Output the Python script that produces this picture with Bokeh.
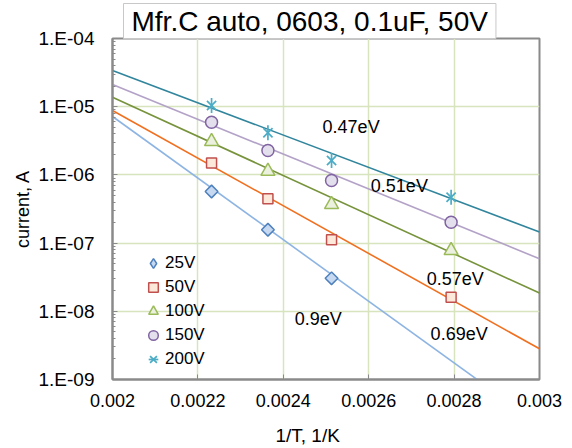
import numpy as np
from bokeh.plotting import figure
from bokeh.models import (Range1d, FixedTicker, Legend, LegendItem,
                          ColumnDataSource, LinearAxis, Title)
from bokeh.core.properties import value
from bokeh.embed import file_html
from bokeh.resources import INLINE

FONT = "Liberation Sans"

# ---- data ----
title_text = "Mfr.C auto, 0603, 0.1uF, 50V"
x_title = "1/T, 1/K"
y_title = "current, A"

inv_T = [0.002232, 0.002364, 0.002513, 0.002793]
inv_T_25V = [0.002232, 0.002364, 0.002513]
i_25V = [5.71e-7, 1.57e-7, 3.05e-8]
i_50V = [1.49e-6, 4.47e-7, 1.12e-7, 1.61e-8]
i_100V = [3.09e-6, 1.13e-6, 3.68e-7, 7.78e-8]
i_150V = [5.93e-6, 2.28e-6, 8.28e-7, 2.02e-7]
i_200V = [1.04e-5, 4.14e-6, 1.63e-6, 4.71e-7]

fit_x = [0.002, 0.003]
fit_25V = [7.18e-6, 2.19e-10]
fit_50V = [8.8e-6, 2.82e-9]
fit_100V = [1.38e-5, 1.85e-8]
fit_150V = [2.12e-5, 5.89e-8]
fit_200V = [3.40e-5, 1.45e-7]

ea_labels = ["0.47eV", "0.51eV", "0.57eV", "0.69eV", "0.9eV"]
ea_x = [0.002492, 0.002605, 0.002736, 0.002745, 0.002427]
ea_y = [4.96e-6, 6.76e-7, 2.99e-8, 4.68e-9, 7.59e-9]

x_ticks = [0.002, 0.0022, 0.0024, 0.0026, 0.0028, 0.003]
x_tick_labels = ["0.002", "0.0022", "0.0024", "0.0026", "0.0028", "0.003"]
y_ticks = [1e-9, 1e-8, 1e-7, 1e-6, 1e-5, 1e-4]
y_tick_labels = ["1.E-09", "1.E-08", "1.E-07", "1.E-06", "1.E-05", "1.E-04"]
y_minor = [k * 10.0 ** e for e in range(-9, -4) for k in range(2, 10)]
x_title_pos = 0.002457   # where the x-axis title is centred
legend_only_x = [0.0015]  # off-range point used only for the 25V legend glyph
legend_only_y = [1e-6]

# ---- figure ----
p = figure(width=572, height=448, title=None,
           x_range=Range1d(0.002, 0.003), y_range=Range1d(1e-9, 1e-4),
           y_axis_type="log", output_backend="svg", toolbar_location=None,
           min_border_left=112, min_border_right=33,
           min_border_top=38, min_border_bottom=69)
p.background_fill_color = "white"
p.border_fill_color = "white"
p.outline_line_color = "#8a8a8a"
p.outline_line_width = 2

grid_col = "#d7e4bd"
p.xgrid.grid_line_color = grid_col
p.ygrid.grid_line_color = grid_col
p.xgrid.grid_line_width = 1.5
p.ygrid.grid_line_width = 1.5

p.xaxis.ticker = FixedTicker(ticks=x_ticks)
p.xaxis.major_label_overrides = dict(zip(x_ticks, x_tick_labels))
p.yaxis.ticker = FixedTicker(ticks=y_ticks, minor_ticks=y_minor)
p.yaxis.major_label_overrides = dict(zip(y_ticks, y_tick_labels))
p.xgrid.ticker = FixedTicker(ticks=x_ticks)
p.ygrid.ticker = FixedTicker(ticks=y_ticks)

for ax in (p.xaxis, p.yaxis):
    ax.axis_line_color = "#8a8a8a"
    ax.axis_line_width = 2
    ax.major_tick_line_color = "#8a8a8a"
    ax.minor_tick_line_color = "#8a8a8a"
    ax.major_tick_in = 5
    ax.major_tick_out = 0
    ax.minor_tick_in = 3
    ax.minor_tick_out = 0
    ax.major_label_text_font = FONT
    ax.major_label_text_color = "black"

p.xaxis.major_label_text_font_size = "18px"
p.yaxis.major_label_text_font_size = "19px"
p.xaxis.major_label_standoff = 14
p.yaxis.major_label_standoff = 18
p.yaxis.axis_label = y_title
p.yaxis.axis_label_text_font = FONT
p.yaxis.axis_label_text_font_size = "18px"
p.yaxis.axis_label_text_font_style = "normal"
p.yaxis.axis_label_text_color = "black"
p.yaxis.axis_label_standoff = 3

# x-axis title, drawn as the single label of a second, bare axis
xt_axis = LinearAxis(ticker=FixedTicker(ticks=[x_title_pos]),
                     major_label_overrides={x_title_pos: x_title})
xt_axis.axis_line_color = None
xt_axis.major_tick_line_color = None
xt_axis.minor_tick_line_color = None
xt_axis.major_tick_in = 0
xt_axis.major_tick_out = 0
xt_axis.major_label_standoff = 15
xt_axis.major_label_text_font = FONT
xt_axis.major_label_text_font_size = "19px"
xt_axis.major_label_text_color = "black"
p.add_layout(xt_axis, "below")

# ---- chart title box ----
p.add_layout(Title(text=title_text, align="left", offset=11,
                   text_font=FONT, text_font_size="28px",
                   text_font_style="normal", text_color="black",
                   background_fill_color="white",
                   border_line_color="#c8c8c8", border_line_width=1,
                   padding=(8, 2), standoff=0), "above")

# ---- fit lines ----
p.line(fit_x, fit_25V, line_color="#8db4e2", line_width=1.6)
p.line(fit_x, fit_50V, line_color="#f07020", line_width=1.6)
p.line(fit_x, fit_100V, line_color="#77933c", line_width=1.6)
p.line(fit_x, fit_150V, line_color="#b3a2c7", line_width=1.6)
p.line(fit_x, fit_200V, line_color="#31859c", line_width=1.6)

# ---- markers ----
p.scatter(inv_T_25V, i_25V, marker="square", angle=np.pi / 4, size=9,
          fill_color="#c6d9f1", line_color="#4f81bd", line_width=1.5)
r25 = p.scatter(legend_only_x, legend_only_y, marker="diamond", size=12,
                fill_color="#c6d9f1", line_color="#4f81bd", line_width=1.5)
r50 = p.scatter(inv_T, i_50V, marker="square", size=10,
                fill_color="#fde9d9", line_color="#c0504d", line_width=1.5)
r100 = p.scatter(inv_T, i_100V, marker="triangle", size=14,
                 fill_color="#ebf1de", line_color="#9bbb59", line_width=1.5)
r150 = p.scatter(inv_T, i_150V, marker="circle", size=12,
                 fill_color="#e4dfec", line_color="#8064a2", line_width=1.5)
r200a = p.scatter(inv_T, i_200V, marker="x", size=13,
                  line_color="#4bacc6", line_width=1.7)
r200b = p.scatter(inv_T, i_200V, marker="dash", angle=np.pi / 2, size=15,
                  line_color="#4bacc6", line_width=1.7)

# ---- activation energy labels ----
src = ColumnDataSource(dict(x=ea_x, y=ea_y, t=ea_labels))
p.text(x="x", y="y", text="t", source=src, text_font=value(FONT),
       text_font_size="18px", text_baseline="middle", text_align="left",
       text_color="black")

# ---- legend ----
legend = Legend(items=[
    LegendItem(label="25V", renderers=[r25]),
    LegendItem(label="50V", renderers=[r50]),
    LegendItem(label="100V", renderers=[r100]),
    LegendItem(label="150V", renderers=[r150]),
    LegendItem(label="200V", renderers=[r200a, r200b]),
], location=(29, 8))
legend.padding = 0
legend.margin = 0
legend.spacing = 0
legend.glyph_width = 24
legend.glyph_height = 24
legend.label_height = 20
legend.label_standoff = 0
legend.label_text_font = FONT
legend.label_text_font_size = "17px"
legend.label_text_color = "black"
legend.border_line_color = None
legend.background_fill_alpha = 0
p.add_layout(legend)

open("out.html", "w").write(file_html(p, INLINE))
